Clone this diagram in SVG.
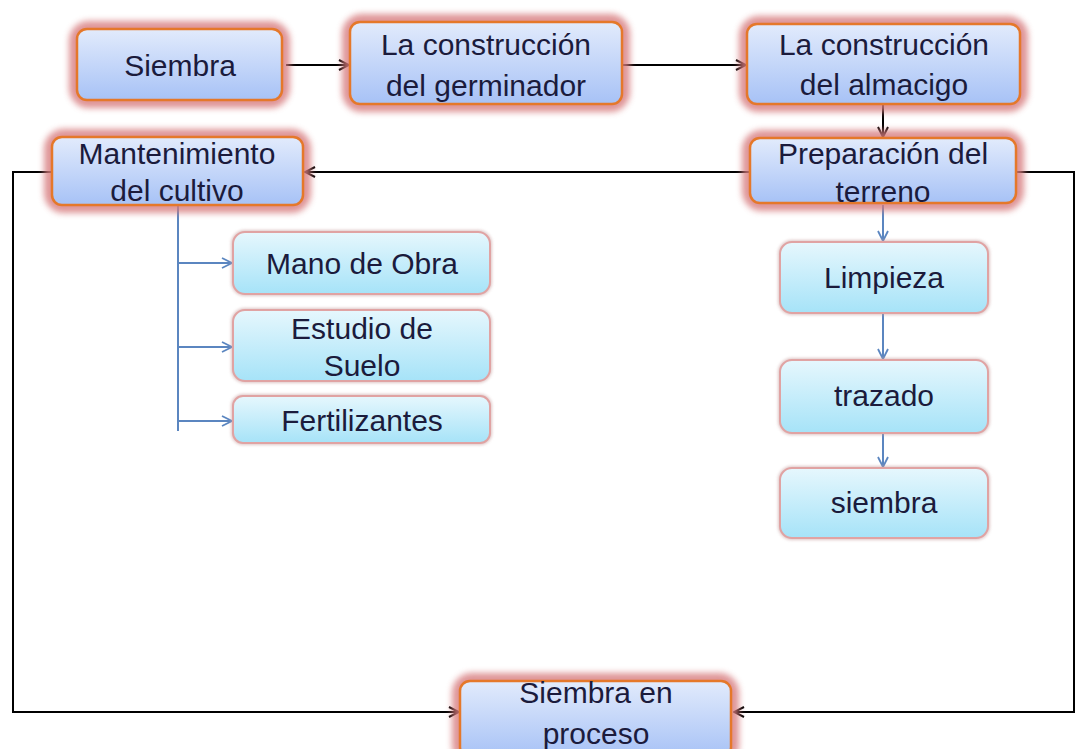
<svg xmlns="http://www.w3.org/2000/svg" width="1085" height="749" viewBox="0 0 1085 749">
<defs>
<linearGradient id="gMain" x1="0" y1="0" x2="0" y2="1">
<stop offset="0" stop-color="#e2ebfc"/>
<stop offset="1" stop-color="#a7c2f6"/>
</linearGradient>
<linearGradient id="gSub" x1="0" y1="0" x2="0" y2="1">
<stop offset="0" stop-color="#e6f7fd"/>
<stop offset="1" stop-color="#a6e3f8"/>
</linearGradient>
<filter id="glow" x="-20%" y="-40%" width="140%" height="180%">
<feGaussianBlur stdDeviation="3"/>
</filter>
<filter id="shadow" x="-10%" y="-20%" width="120%" height="140%">
<feGaussianBlur stdDeviation="1.5"/>
</filter>
<marker id="ab" viewBox="0 0 12 12" refX="11" refY="6" markerWidth="12" markerHeight="12" markerUnits="userSpaceOnUse" orient="auto">
<path d="M1,1 L11,6 L1,11" fill="none" stroke="#000" stroke-width="2"/>
</marker>
<marker id="abl" viewBox="0 0 12 12" refX="11" refY="6" markerWidth="12" markerHeight="12" markerUnits="userSpaceOnUse" orient="auto">
<path d="M1,1 L11,6 L1,11" fill="none" stroke="#5b86c0" stroke-width="1.8"/>
</marker>
</defs>
<style>
.halo{fill:none;stroke:#d77a7d;stroke-width:16;opacity:0.8}
.main{fill:url(#gMain);stroke:#e5782a;stroke-width:2.5}
.sh{fill:none;stroke:#c9a0a0;stroke-width:4;opacity:0.6}
.sub{fill:url(#gSub);stroke:#e0a3a3;stroke-width:2}
.t{font-family:"Liberation Sans",Arial,sans-serif;font-size:30px;fill:#1b1b3c;text-anchor:middle;dominant-baseline:central}
.c{fill:none;stroke:#000;stroke-width:2}
.cb{fill:none;stroke:#5b86c0;stroke-width:2}
</style>
<rect width="1085" height="749" fill="#fff"/>

<g id="connectors">
<path class="c" d="M286,65 L349,65" marker-end="url(#ab)"/>
<path class="c" d="M623,65 L746,65" marker-end="url(#ab)"/>
<path class="c" d="M883,105 L883,137" marker-end="url(#ab)"/>
<path class="c" d="M749,172 L305,172" marker-end="url(#ab)"/>
<path class="c" d="M52,172 L13,172 L13,712 L459,712" marker-end="url(#ab)"/>
<path class="c" d="M1017,172 L1074,172 L1074,712 L734,712" marker-end="url(#ab)"/>
<path class="cb" d="M178,206 L178,431"/>
<path class="cb" d="M178,263 L232,263" marker-end="url(#abl)"/>
<path class="cb" d="M178,347 L232,347" marker-end="url(#abl)"/>
<path class="cb" d="M178,421 L232,421" marker-end="url(#abl)"/>
<path class="cb" d="M883,205 L883,241" marker-end="url(#abl)"/>
<path class="cb" d="M883,313 L883,359" marker-end="url(#abl)"/>
<path class="cb" d="M883,433 L883,467" marker-end="url(#abl)"/>
</g>

<g id="n-siembra">
<rect class="halo" x="77" y="29" width="205" height="71" rx="12" filter="url(#glow)"/>
<rect class="main" x="77" y="29" width="205" height="71" rx="10"/>
<text class="t" x="180" y="65">Siembra</text>
</g>
<g id="n-germinador">
<rect class="halo" x="350" y="22" width="272" height="82" rx="12" filter="url(#glow)"/>
<rect class="main" x="350" y="22" width="272" height="82" rx="10"/>
<text class="t" x="486" y="44">La construcción</text>
<text class="t" x="486" y="85">del germinador</text>
</g>
<g id="n-almacigo">
<rect class="halo" x="747" y="24" width="273" height="80" rx="12" filter="url(#glow)"/>
<rect class="main" x="747" y="24" width="273" height="80" rx="10"/>
<text class="t" x="884" y="44">La construcción</text>
<text class="t" x="884" y="84">del almacigo</text>
</g>
<g id="n-preparacion">
<rect class="halo" x="750" y="138" width="266" height="65" rx="12" filter="url(#glow)"/>
<rect class="main" x="750" y="138" width="266" height="65" rx="10"/>
<text class="t" x="883" y="153">Preparación del</text>
<text class="t" x="883" y="191">terreno</text>
</g>
<g id="n-mantenimiento">
<rect class="halo" x="52" y="137" width="251" height="68" rx="12" filter="url(#glow)"/>
<rect class="main" x="52" y="137" width="251" height="68" rx="10"/>
<text class="t" x="177" y="153">Mantenimiento</text>
<text class="t" x="177" y="190">del cultivo</text>
</g>
<g id="n-mano">
<rect class="sh" x="233" y="232" width="257" height="62" rx="12" filter="url(#shadow)"/>
<rect class="sub" x="233" y="232" width="257" height="62" rx="12"/>
<text class="t" x="362" y="263">Mano de Obra</text>
</g>
<g id="n-estudio">
<rect class="sh" x="233" y="310" width="257" height="71" rx="12" filter="url(#shadow)"/>
<rect class="sub" x="233" y="310" width="257" height="71" rx="12"/>
<text class="t" x="362" y="328">Estudio de</text>
<text class="t" x="362" y="365">Suelo</text>
</g>
<g id="n-fertilizantes">
<rect class="sh" x="233" y="396" width="257" height="47" rx="10" filter="url(#shadow)"/>
<rect class="sub" x="233" y="396" width="257" height="47" rx="10"/>
<text class="t" x="362" y="420">Fertilizantes</text>
</g>
<g id="n-limpieza">
<rect class="sh" x="780" y="242" width="208" height="71" rx="12" filter="url(#shadow)"/>
<rect class="sub" x="780" y="242" width="208" height="71" rx="12"/>
<text class="t" x="884" y="277">Limpieza</text>
</g>
<g id="n-trazado">
<rect class="sh" x="780" y="360" width="208" height="73" rx="12" filter="url(#shadow)"/>
<rect class="sub" x="780" y="360" width="208" height="73" rx="12"/>
<text class="t" x="884" y="395">trazado</text>
</g>
<g id="n-siembra2">
<rect class="sh" x="780" y="468" width="208" height="70" rx="12" filter="url(#shadow)"/>
<rect class="sub" x="780" y="468" width="208" height="70" rx="12"/>
<text class="t" x="884" y="502">siembra</text>
</g>
<g id="n-proceso">
<rect class="halo" x="460" y="681" width="271" height="76" rx="12" filter="url(#glow)"/>
<rect class="main" x="460" y="681" width="271" height="76" rx="10"/>
<text class="t" x="596" y="692">Siembra en</text>
<text class="t" x="596" y="733">proceso</text>
</g>
</svg>
